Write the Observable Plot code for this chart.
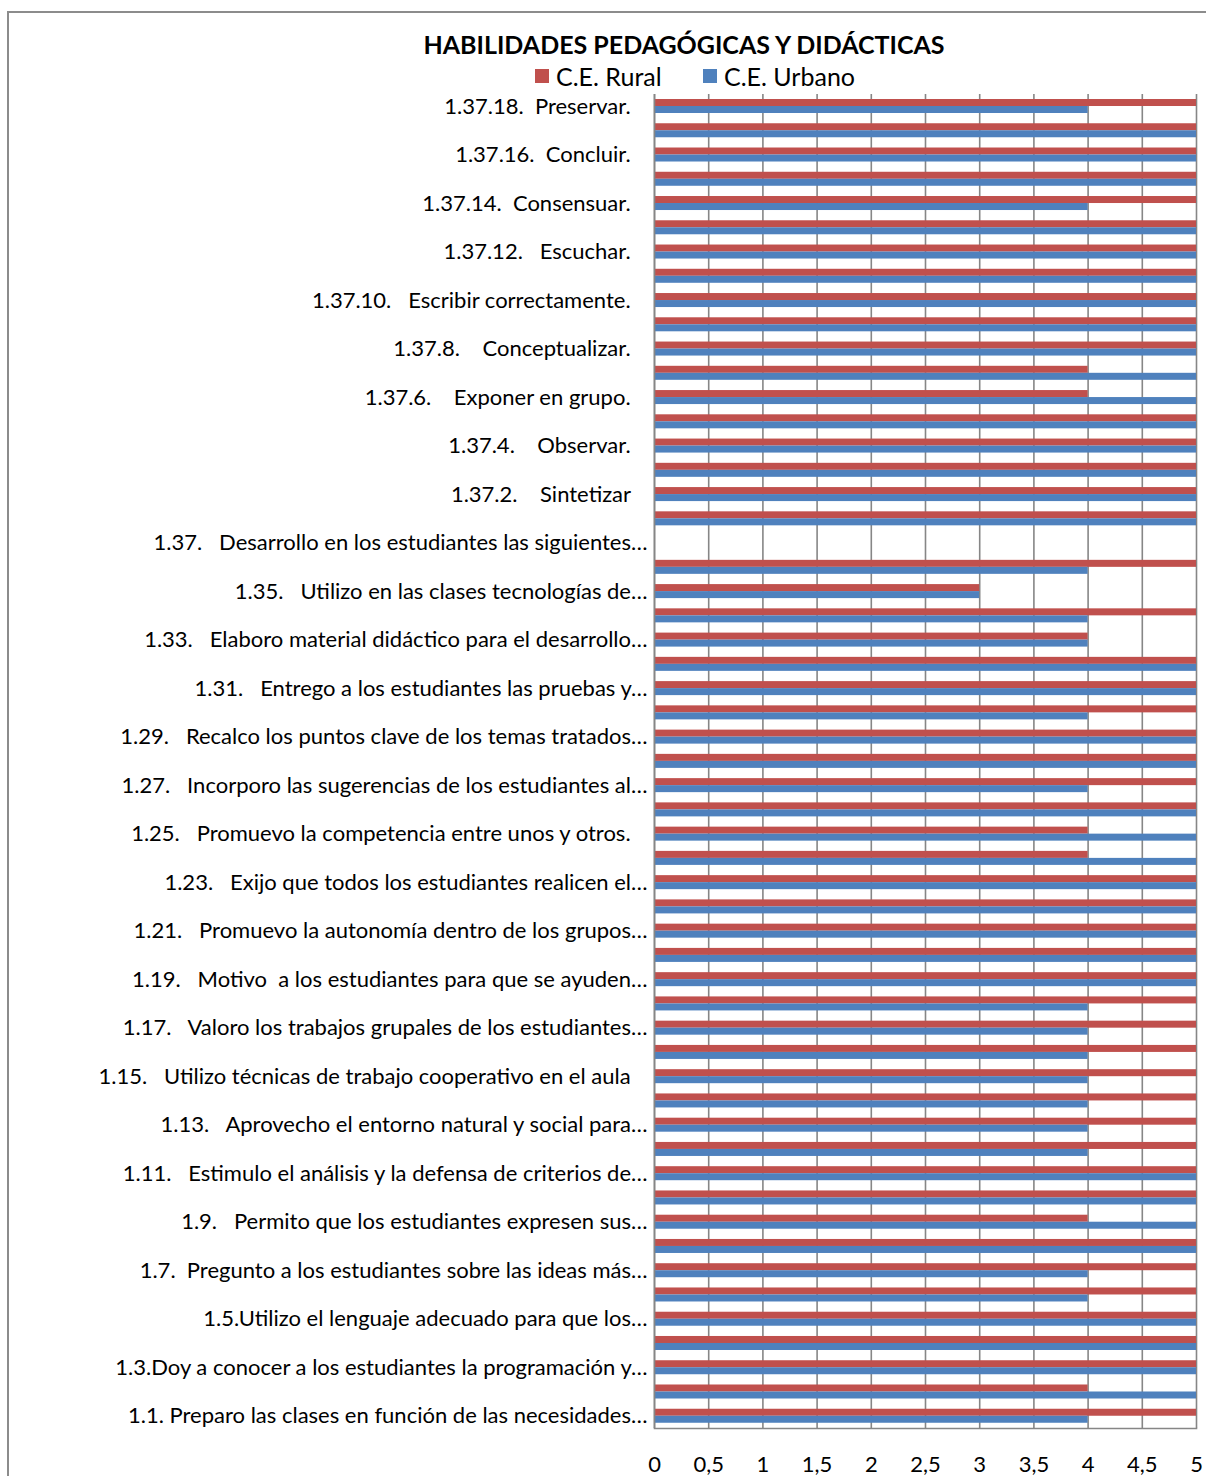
<!DOCTYPE html>
<html>
<head>
<meta charset="utf-8">
<script src="https://cdn.jsdelivr.net/npm/d3@7"></script>
<script src="https://cdn.jsdelivr.net/npm/@observablehq/plot@0.6"></script>
<style>
  html, body { margin: 0; padding: 0; overflow: hidden; background: #fff; width: 1206px; height: 1476px; }
  #wrap { position: relative; width: 1206px; height: 1476px; font-family: Lato, "Open Sans", sans-serif; }
  #border { position: absolute; left: 7px; top: 11px; width: 1230px; height: 1500px; border: 2px solid #8c8c8c; box-sizing: border-box; }
  #title { position: absolute; left: 284px; width: 800px; top: 30px; text-align: center; font-weight: 700; font-size: 25px; color: #000; line-height: 28px; }
  .sw { position: absolute; width: 14px; height: 14px; top: 69px; }
  .lt { position: absolute; top: 68px; font-size: 25px; line-height: 16px; height: 16px; color: #000; white-space: nowrap; }
  #chart { position: absolute; left: 0; top: 0; }
</style>
</head>
<body>
<div id="wrap">
  <div id="border"></div>
  <div id="chart"></div>
  <div id="title"></div>
  <div id="legend"></div>
</div>
<script>
// ---- data (top to bottom, as drawn) ----
const categories = [
  "1.37.18","1.37.17","1.37.16","1.37.15","1.37.14","1.37.13","1.37.12","1.37.11","1.37.10","1.37.9",
  "1.37.8","1.37.7","1.37.6","1.37.5","1.37.4","1.37.3","1.37.2","1.37.1","1.37","1.36",
  "1.35","1.34","1.33","1.32","1.31","1.30","1.29","1.28","1.27","1.26",
  "1.25","1.24","1.23","1.22","1.21","1.20","1.19","1.18","1.17","1.16",
  "1.15","1.14","1.13","1.12","1.11","1.10","1.9","1.8","1.7","1.6",
  "1.5","1.4","1.3","1.2","1.1"
];
const rural = [
  5,5,5,5,5,5,5,5,5,5,
  5,4,4,5,5,5,5,5,null,5,
  3,5,4,5,5,5,5,5,5,5,
  4,4,5,5,5,5,5,5,5,5,
  5,5,5,5,5,5,4,5,5,5,
  5,5,5,4,5
];
const urbano = [
  4,5,5,5,4,5,5,5,5,5,
  5,5,5,5,5,5,5,5,null,4,
  3,4,4,5,5,4,5,5,4,5,
  5,5,5,5,5,5,5,4,4,4,
  4,4,4,4,5,5,5,5,4,4,
  5,5,5,5,4
];
const shownCodes = [
  "1.37.18","1.37.16","1.37.14","1.37.12","1.37.10","1.37.8","1.37.6","1.37.4","1.37.2","1.37",
  "1.35","1.33","1.31","1.29","1.27","1.25","1.23","1.21","1.19","1.17",
  "1.15","1.13","1.11","1.9","1.7","1.5","1.3","1.1"
];
const S = "\u00A0";
const T = S + S + S; // trailing gap of the untruncated labels
const shownLabels = [
  "1.37.18." + S+S + "Preservar." + T,
  "1.37.16." + S+S + "Concluir." + T,
  "1.37.14." + S+S + "Consensuar." + T,
  "1.37.12." + S+S+S + "Escuchar." + T,
  "1.37.10." + S+S+S + "Escribir correctamente." + T,
  "1.37.8." + S+S+S+S + "Conceptualizar." + T,
  "1.37.6." + S+S+S+S + "Exponer en grupo." + T,
  "1.37.4." + S+S+S+S + "Observar." + T,
  "1.37.2." + S+S+S+S + "Sintetizar" + T,
  "1.37." + S+S+S + "Desarrollo en los estudiantes las siguientes…",
  "1.35." + S+S+S + "Utilizo en las clases tecnologías de…",
  "1.33." + S+S+S + "Elaboro material didáctico para el desarrollo…",
  "1.31." + S+S+S + "Entrego a los estudiantes las pruebas y…",
  "1.29." + S+S+S + "Recalco los puntos clave de los temas tratados…",
  "1.27." + S+S+S + "Incorporo las sugerencias de los estudiantes al…",
  "1.25." + S+S+S + "Promuevo la competencia entre unos y otros." + T,
  "1.23." + S+S+S + "Exijo que todos los estudiantes realicen el…",
  "1.21." + S+S+S + "Promuevo la autonomía dentro de los grupos…",
  "1.19." + S+S+S + "Motivo" + S+S + "a los estudiantes para que se ayuden…",
  "1.17." + S+S+S + "Valoro los trabajos grupales de los estudiantes…",
  "1.15." + S+S+S + "Utilizo técnicas de trabajo cooperativo en el aula" + T,
  "1.13." + S+S+S + "Aprovecho el entorno natural y social para…",
  "1.11." + S+S+S + "Estimulo el análisis y la defensa de criterios de…",
  "1.9." + S+S+S + "Permito que los estudiantes expresen sus…",
  "1.7." + S+S + "Pregunto a los estudiantes sobre las ideas más…",
  "1.5.Utilizo el lenguaje adecuado para que los…",
  "1.3.Doy a conocer a los estudiantes la programación y…",
  "1.1." + S + "Preparo las clases en función de las necesidades…"
];
const xTicks = [0, 0.5, 1, 1.5, 2, 2.5, 3, 3.5, 4, 4.5, 5];
const xTickLabels = ["0", "0,5", "1", "1,5", "2", "2,5", "3", "3,5", "4", "4,5", "5"];
const seriesNames = ["C.E. Rural", "C.E. Urbano"];
const seriesColors = ["#C0504D", "#4F81BD"];
const titleText = "HABILIDADES PEDAGÓGICAS Y DIDÁCTICAS";

// ---- build ----
const rows = categories.map((c, i) => ({code: c, rural: rural[i], urbano: urbano[i]}));
const labelOf = new Map(shownCodes.map((c, i) => [c, shownLabels[i]]));
const gray = "#868686";

const chart = Plot.plot({
  width: 1206,
  height: 1476,
  marginLeft: 654,
  marginRight: 10,
  marginTop: 94,
  marginBottom: 48,
  style: {fontFamily: "Lato, 'Open Sans', sans-serif", fontSize: "20px", color: "#000", background: "transparent", overflow: "visible"},
  x: {domain: [0, 5], axis: null},
  y: {domain: categories, padding: 0, round: false, axis: null},
  marks: [
    Plot.gridX(xTicks, {stroke: gray, strokeOpacity: 1, strokeWidth: 1.6}),
    Plot.barX(rows, {y: "code", x: "rural", fill: seriesColors[0], insetTop: 5, insetBottom: 12.25}),
    Plot.barX(rows, {y: "code", x: "urbano", fill: seriesColors[1], insetTop: 12, insetBottom: 5.25}),
    Plot.ruleX([0], {stroke: gray, strokeWidth: 1.6}),
    Plot.frame({anchor: "bottom", stroke: gray, strokeWidth: 1.6}),
    Plot.axisX(xTicks, {tickSize: 0, tickPadding: 28, tickFormat: (d) => xTickLabels[xTicks.indexOf(d)], fontSize: 22, label: null}),
    Plot.axisY(shownCodes, {tickSize: 0, tickPadding: 7, tickFormat: (d) => labelOf.get(d), fontSize: 22, label: null})
  ]
});
document.getElementById("chart").appendChild(chart);

document.getElementById("title").textContent = titleText;
const legend = document.getElementById("legend");
const swX = [535, 703];
seriesNames.forEach((name, i) => {
  const sw = document.createElement("div");
  sw.className = "sw";
  sw.style.left = swX[i] + "px";
  sw.style.background = seriesColors[i];
  legend.appendChild(sw);
  const t = document.createElement("div");
  t.className = "lt";
  t.style.left = (swX[i] + 21) + "px";
  t.textContent = name;
  legend.appendChild(t);
});
</script>
</body>
</html>
